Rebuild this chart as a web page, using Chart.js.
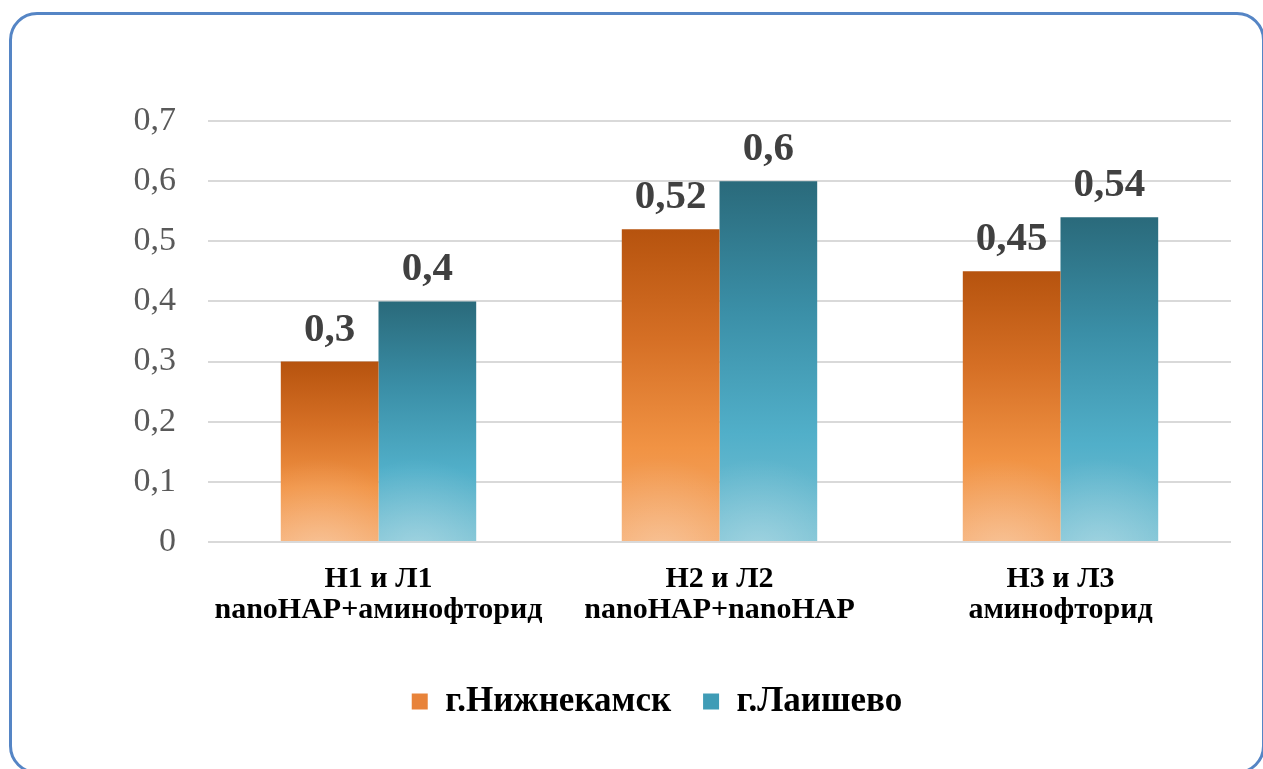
<!DOCTYPE html>
<html>
<head>
<meta charset="utf-8">
<script src="https://cdn.jsdelivr.net/npm/chart.js@4/dist/chart.umd.min.js"></script>
<style>
  html, body { margin: 0; padding: 0; background: #fff; }
  #wrap { position: relative; width: 1263px; height: 769px; overflow: hidden; }
  #c { position: absolute; left: 0; top: 0; }
  #frame {
    position: absolute; left: 9px; top: 12px; width: 1256px; height: 762px;
    border: 3px solid #5585c5; border-radius: 28px; box-sizing: border-box;
    pointer-events: none;
  }
</style>
</head>
<body>
<div id="wrap">
  <canvas id="c" width="1263" height="769"></canvas>
  <div id="frame"></div>
</div>
<script>
// Categories (two-line axis labels) and series
const categories = [
  ['Н1 и Л1', 'nanoHAP+аминофторид'],
  ['Н2 и Л2', 'nanoHAP+nanoHAP'],
  ['Н3 и Л3', 'аминофторид']
];
const seriesNames = ['г.Нижнекамск', 'г.Лаишево'];
const nizhnekamsk = [0.3, 0.52, 0.45];
const laishevo = [0.4, 0.6, 0.54];
const yTickLabels = ['0', '0,1', '0,2', '0,3', '0,4', '0,5', '0,6', '0,7'];

const SERIF = "'Liberation Serif', 'Times New Roman', serif";

// Vertical gradients, dark at the bar top and light at its base
const orangeStops = [[0, '#b6530e'], [0.35, '#d56f25'], [0.7, '#f19344'], [1, '#f5aa6c']];
const tealStops = [[0, '#2a6a7b'], [0.35, '#3a8ea6'], [0.7, '#51afc9'], [1, '#7bc2d4']];

function barFill(stops) {
  return (ctx) => {
    const chart = ctx.chart;
    const ys = chart.scales.y;
    if (ctx.type !== 'data' || !ys || !chart.chartArea) return stops[2][1];
    const top = ys.getPixelForValue(ctx.raw);
    const base = ys.getPixelForValue(0);
    const g = chart.ctx.createLinearGradient(0, top, 0, base);
    stops.forEach(s => g.addColorStop(s[0], s[1]));
    return g;
  };
}

// Soft light spot near the base of every bar
const barGlow = {
  id: 'barGlow',
  afterDatasetsDraw(chart) {
    const c = chart.ctx;
    chart.data.datasets.forEach((ds, i) => {
      chart.getDatasetMeta(i).data.forEach(bar => {
        const { x, y, base, width } = bar.getProps(['x', 'y', 'base', 'width'], true);
        const left = x - width / 2;
        const h = base - y;
        c.save();
        c.beginPath();
        c.rect(left, y, width, h);
        c.clip();
        const cx = left + width * 0.4;
        const r = width * 0.95;
        const g = c.createRadialGradient(cx, base + 10, 0, cx, base + 10, r);
        g.addColorStop(0, 'rgba(255,255,255,0.28)');
        g.addColorStop(1, 'rgba(255,255,255,0)');
        c.fillStyle = g;
        c.fillRect(left, y, width, h);
        c.restore();
      });
    });
  }
};

// Value labels above the bars
const valueLabels = {
  id: 'valueLabels',
  afterDatasetsDraw(chart) {
    const c = chart.ctx;
    c.save();
    c.font = 'bold 41px ' + SERIF;
    c.fillStyle = '#404040';
    c.textAlign = 'center';
    c.textBaseline = 'alphabetic';
    chart.data.datasets.forEach((ds, i) => {
      chart.getDatasetMeta(i).data.forEach((bar, j) => {
        const txt = String(ds.data[j]).replace('.', ',');
        c.fillText(txt, bar.x, bar.y - 21);
      });
    });
    c.restore();
  }
};

new Chart(document.getElementById('c'), {
  type: 'bar',
  data: {
    labels: categories,
    datasets: [
      {
        label: seriesNames[0],
        data: nizhnekamsk,
        backgroundColor: barFill(orangeStops),
        categoryPercentage: 0.573,
        barPercentage: 1.0,
        borderWidth: 0
      },
      {
        label: seriesNames[1],
        data: laishevo,
        backgroundColor: barFill(tealStops),
        categoryPercentage: 0.573,
        barPercentage: 1.0,
        borderWidth: 0
      }
    ]
  },
  options: {
    responsive: false,
    animation: false,
    devicePixelRatio: 1,
    layout: { padding: { left: 83, right: 32, top: 121, bottom: 40 } },
    plugins: {
      tooltip: { enabled: false },
      legend: {
        position: 'bottom',
        labels: {
          boxWidth: 16,
          boxHeight: 16,
          padding: 32,
          color: '#000',
          font: { family: SERIF, size: 35, weight: 'bold' },
          generateLabels(chart) {
            const flat = ['#e8833a', '#3f9cb6'];
            return chart.data.datasets.map((ds, i) => ({
              text: ds.label,
              fillStyle: flat[i],
              strokeStyle: flat[i],
              lineWidth: 0,
              hidden: false,
              datasetIndex: i,
              fontColor: '#000'
            }));
          }
        }
      }
    },
    scales: {
      x: {
        grid: { display: false, drawTicks: false },
        border: { display: false },
        ticks: {
          color: '#000',
          font: { family: SERIF, size: 30, weight: 'bold', lineHeight: 1.05 },
          padding: 21,
          maxRotation: 0,
          autoSkip: false
        },
        afterFit(s) { s.height = 110; }
      },
      y: {
        min: 0,
        max: 0.7,
        ticks: {
          stepSize: 0.1,
          color: '#595959',
          font: { family: SERIF, size: 34 },
          padding: 32,
          callback: (v, i) => yTickLabels[i]
        },
        grid: { color: '#d9d9d9', lineWidth: 2, drawTicks: false },
        border: { display: false },
        afterFit(s) { s.width = 125; }
      }
    }
  },
  plugins: [barGlow, valueLabels]
});
</script>
</body>
</html>
